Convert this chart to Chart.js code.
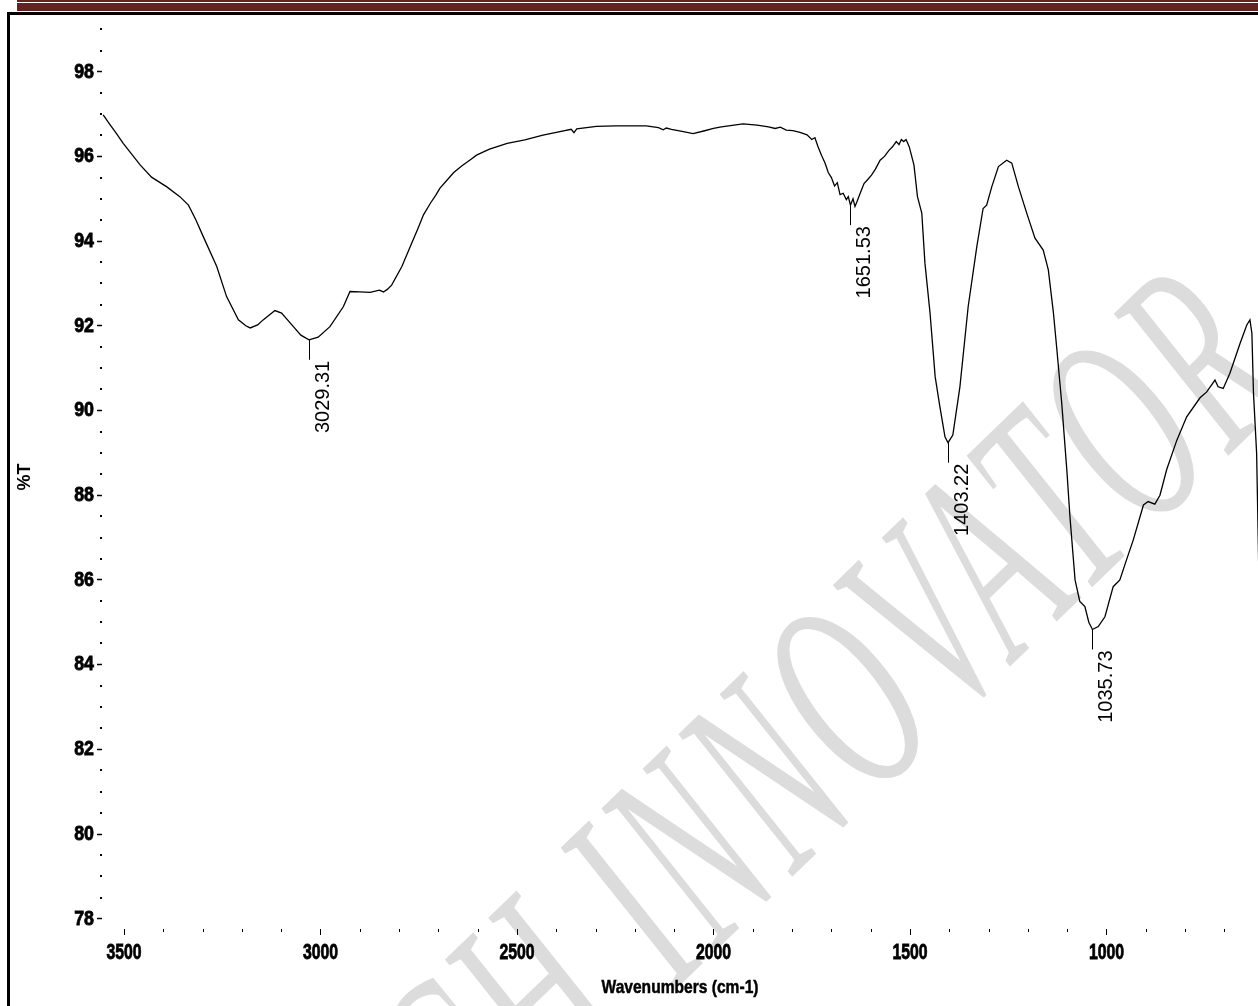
<!DOCTYPE html>
<html>
<head>
<meta charset="utf-8">
<title>FTIR spectrum</title>
<script src="https://cdn.jsdelivr.net/npm/chart.js@4.4.1/dist/chart.umd.min.js"></script>
<style>
  html, body { margin: 0; padding: 0; background: #fff; }
  body { width: 1258px; height: 1006px; position: relative; overflow: hidden; }
  .rule-thin { position: absolute; left: 17px; right: 0; top: 0; height: 2px; background: #622423; }
  .rule-thick { position: absolute; left: 17px; right: 0; top: 3px; height: 8px; background: #622423; }
  .frame { position: absolute; left: 7px; top: 12px; width: 1400px; height: 1200px;
           border-left: 3px solid #000; border-top: 3px solid #000; }
  #spectrum { position: absolute; left: 0; top: 0; }
</style>
</head>
<body>
<div class="rule-thin"></div>
<div class="rule-thick"></div>
<div class="frame"></div>
<canvas id="spectrum" width="1258" height="1006"></canvas>
<script>
// spectrum: wavenumber (cm-1) and %T
const wavenumbers = [
  3553, 3538, 3520, 3502, 3480, 3459, 3430, 3391, 3358, 3336,
  3317, 3298, 3264, 3239, 3209, 3190, 3179, 3160, 3146, 3116,
  3099, 3069, 3050, 3029.31, 3006, 2976, 2942, 2925, 2900, 2874,
  2850, 2840, 2830, 2819, 2793, 2768, 2752, 2738, 2720, 2707,
  2696, 2680, 2661, 2640, 2616, 2603, 2570, 2525, 2480, 2434,
  2400, 2362, 2355, 2348, 2298, 2250, 2200, 2171, 2140, 2128,
  2120, 2107, 2080, 2052, 2025, 2000, 1980, 1925, 1889, 1860,
  1843, 1830, 1815, 1798, 1780, 1762, 1750, 1742, 1734, 1725,
  1716, 1708, 1700, 1692, 1685, 1678, 1670, 1662, 1657, 1651.53,
  1645, 1640, 1635, 1628, 1617, 1608, 1598, 1588, 1576, 1565,
  1553, 1545, 1535, 1528, 1522, 1516, 1510, 1502, 1490, 1481,
  1470, 1462, 1449, 1436, 1424, 1411, 1403.22, 1391, 1373, 1352,
  1330, 1314, 1305, 1292, 1275, 1254, 1241, 1224, 1203, 1182,
  1161, 1148, 1135, 1127, 1114, 1101, 1093, 1080, 1068, 1055,
  1045, 1035.73, 1021, 1004, 983, 966, 950, 932, 906, 894,
  877, 864, 847, 821, 796, 762, 745, 724, 716, 703,
  686, 660, 643, 635, 630, 626, 618, 612
];
const transmittance = [
  96.98, 96.78, 96.55, 96.31, 96.05, 95.80, 95.51, 95.28, 95.05, 94.85,
  94.50, 94.10, 93.40, 92.69, 92.14, 92.00, 91.95, 92.02, 92.14, 92.36,
  92.30, 91.98, 91.78, 91.67, 91.73, 91.98, 92.45, 92.81, 92.80, 92.79,
  92.84, 92.80, 92.86, 92.96, 93.40, 93.95, 94.30, 94.62, 94.90, 95.08,
  95.25, 95.42, 95.62, 95.78, 95.94, 96.03, 96.17, 96.31, 96.39, 96.50,
  96.57, 96.64, 96.56, 96.65, 96.71, 96.72, 96.72, 96.72, 96.68, 96.63,
  96.67, 96.64, 96.59, 96.54, 96.60, 96.66, 96.70, 96.77, 96.74, 96.70,
  96.66, 96.69, 96.62, 96.61, 96.57, 96.51, 96.40, 96.44, 96.23, 96.02,
  95.84, 95.62, 95.50, 95.30, 95.38, 95.10, 95.13, 94.98, 95.05, 94.85,
  95.00, 94.82, 94.93, 95.10, 95.36, 95.45, 95.56, 95.70, 95.91, 96.00,
  96.15, 96.22, 96.35, 96.28, 96.40, 96.35, 96.40, 96.23, 95.80, 95.05,
  94.66, 93.48, 92.30, 90.80, 90.09, 89.38, 89.24, 89.42, 90.56, 92.45,
  93.87, 94.77, 94.85, 95.28, 95.76, 95.91, 95.84, 95.28, 94.66, 94.07,
  93.79, 93.32, 92.30, 91.51, 90.18, 88.60, 87.49, 86.00, 85.49, 85.37,
  85.00, 84.83, 84.90, 85.13, 85.84, 86.00, 86.45, 86.94, 87.77, 87.85,
  87.79, 88.00, 88.60, 89.30, 89.85, 90.30, 90.44, 90.72, 90.56, 90.52,
  90.88, 91.59, 92.02, 92.14, 91.82, 90.41, 88.99, 86.00
];

// labelled peaks
const peakPositions = [3029.31, 1651.53, 1403.22, 1035.73];
const peakValues = [91.67, 94.85, 89.24, 84.83];
const peakLabels = ['3029.31', '1651.53', '1403.22', '1035.73'];

// axis ticks
const xTickValues = [3500, 3000, 2500, 2000, 1500, 1000];
const xTickLabels = ['3500', '3000', '2500', '2000', '1500', '1000'];
const xMinorTicks = [3400, 3300, 3200, 3100, 2900, 2800, 2700, 2600, 2400, 2300, 2200, 2100,
                     1900, 1800, 1700, 1600, 1400, 1300, 1200, 1100, 900, 800, 700];
const yTickValues = [78, 80, 82, 84, 86, 88, 90, 92, 94, 96, 98];
const yTickLabels = ['78', '80', '82', '84', '86', '88', '90', '92', '94', '96', '98'];
const yMinorTicks = [78.5, 79, 79.5, 80.5, 81, 81.5, 82.5, 83, 83.5, 84.5, 85, 85.5,
                     86.5, 87, 87.5, 88.5, 89, 89.5, 90.5, 91, 91.5, 92.5, 93, 93.5,
                     94.5, 95, 95.5, 96.5, 97, 97.5, 98.5, 99];
const xTitle = 'Wavenumbers (cm-1)';
const yTitle = '%T';

const watermarkLead = 'RESEARCH ';
const watermarkText = 'INNOVATOR';

const SANS = '"Liberation Sans", Arial, sans-serif';

const watermark = {
  id: 'watermark',
  beforeDraw(chart) {
    const ctx = chart.ctx;
    ctx.save();
    ctx.fillStyle = '#dcdcdc';
    ctx.font = 'italic 150px "Liberation Serif", "DejaVu Serif", serif';
    ctx.letterSpacing = '7px';
    const lead = ctx.measureText(watermarkLead).width;
    ctx.translate(675, 990);
    ctx.rotate(-44 * Math.PI / 180);
    ctx.scale(1, 1.85);
    ctx.fillText(watermarkLead + watermarkText, -lead, 0);
    ctx.restore();
  }
};

// the plot uses a narrow heavy face: squeeze Liberation Sans Bold horizontally
function squeezed(ctx, text, x, y, sx, align) {
  ctx.save();
  ctx.translate(x, y);
  ctx.scale(sx, 1);
  ctx.textAlign = align;
  ctx.fillText(text, 0, 0);
  ctx.strokeText(text, 0, 0);
  ctx.restore();
}

const axisText = {
  id: 'axisText',
  afterDraw(chart) {
    const {ctx, chartArea, scales: {x, y}} = chart;
    ctx.save();
    ctx.fillStyle = '#000';
    ctx.strokeStyle = '#000';
    ctx.lineWidth = 0.8;
    // minor ticks
    xMinorTicks.forEach(v => {
      const px = Math.round(x.getPixelForValue(v));
      ctx.fillRect(px, chartArea.bottom, 1, 3);
    });
    yMinorTicks.forEach(v => {
      const py = Math.round(y.getPixelForValue(v));
      ctx.fillRect(chartArea.left - 2, py - 1, 2, 2);
    });
    // tick labels
    ctx.textBaseline = 'middle';
    ctx.font = 'bold 22px ' + SANS;
    xTickValues.forEach((v, i) => {
      squeezed(ctx, xTickLabels[i], x.getPixelForValue(v), chartArea.bottom + 24, 0.72, 'center');
    });
    ctx.font = 'bold 21px ' + SANS;
    yTickValues.forEach((v, i) => {
      squeezed(ctx, yTickLabels[i], chartArea.left - 8, y.getPixelForValue(v), 0.85, 'right');
    });
    // x title
    ctx.lineWidth = 0.5;
    ctx.font = 'bold 19px ' + SANS;
    squeezed(ctx, xTitle, (chartArea.left + chartArea.right) / 2, chartArea.bottom + 59, 0.82, 'center');
    ctx.restore();
  }
};

const peakMarks = {
  id: 'peakMarks',
  afterDatasetsDraw(chart) {
    const {ctx, scales: {x, y}} = chart;
    ctx.save();
    ctx.strokeStyle = '#000';
    ctx.fillStyle = '#000';
    ctx.lineWidth = 1;
    ctx.font = '20px ' + SANS;
    peakPositions.forEach((w, i) => {
      const px = Math.round(x.getPixelForValue(w)) + 0.5;
      const py = y.getPixelForValue(peakValues[i]);
      ctx.beginPath();
      ctx.moveTo(px, py);
      ctx.lineTo(px, py + 20);
      ctx.stroke();
      ctx.save();
      ctx.translate(px + 19, py + 21);
      ctx.rotate(-Math.PI / 2);
      ctx.textAlign = 'right';
      ctx.textBaseline = 'alphabetic';
      ctx.fillText(peakLabels[i], 0, 0);
      ctx.restore();
    });
    ctx.restore();
  }
};

new Chart(document.getElementById('spectrum'), {
  type: 'line',
  data: {
    datasets: [{
      data: wavenumbers.map((w, i) => ({x: w, y: transmittance[i]})),
      borderColor: '#000',
      borderWidth: 1.3,
      pointRadius: 0,
      tension: 0,
      fill: false
    }]
  },
  options: {
    responsive: false,
    animation: false,
    devicePixelRatio: 1,
    layout: {padding: {left: 0, right: 0, top: 25, bottom: 0}},
    plugins: {legend: {display: false}, tooltip: {enabled: false}},
    scales: {
      x: {
        type: 'linear',
        reverse: true,
        min: 614.5,
        max: 3556,
        afterBuildTicks: s => { s.ticks = xTickValues.map(v => ({value: v})); },
        afterFit: s => { s.height = 77; },
        border: {display: false},
        grid: {drawOnChartArea: false, drawTicks: true, tickLength: 6, tickColor: '#000', tickWidth: 1},
        ticks: {display: false},
        title: {display: false}
      },
      y: {
        min: 77.757,
        max: 99.103,
        afterBuildTicks: s => { s.ticks = yTickValues.map(v => ({value: v})); },
        afterFit: s => { s.width = 102; },
        border: {display: false},
        grid: {drawOnChartArea: false, drawTicks: true, tickLength: 5, tickColor: '#000', tickWidth: 1.5},
        ticks: {display: false},
        title: {
          display: true, text: yTitle, color: '#000',
          font: {family: SANS, size: 18, weight: 'bold'},
          padding: {top: 14, bottom: 0}
        }
      }
    }
  },
  plugins: [watermark, axisText, peakMarks]
});
</script>
</body>
</html>
